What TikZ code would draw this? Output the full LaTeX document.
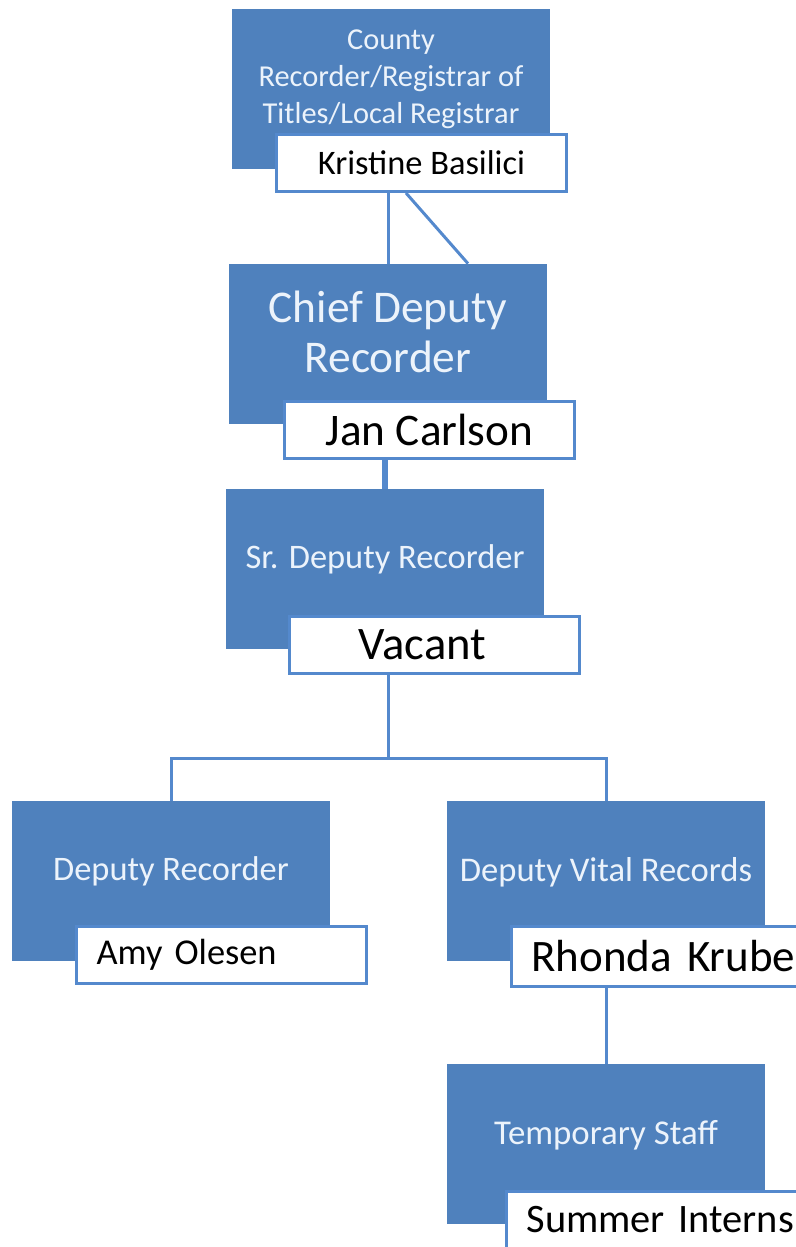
\documentclass[tikz,border=0pt]{standalone}
\usepackage{fontspec}
\setmainfont{Carlito}
\definecolor{boxblue}{RGB}{79,129,189}
\definecolor{lineblue}{RGB}{84,137,205}
\definecolor{paleblue}{RGB}{236,243,251}

\begin{document}
\begin{tikzpicture}[x=0.5pt,y=-0.5pt,
  role/.style={fill=boxblue, text=paleblue, minimum width=159pt, minimum height=80pt,
    inner sep=0pt, align=center, text depth=12pt},
  person/.style={draw=lineblue, line width=1.5pt, fill=white, minimum width=145pt,
    minimum height=28.5pt, inner sep=0pt, anchor=north west},
  leftname/.style={inner xsep=10pt, text width=#1, align=left},
  link/.style={draw=lineblue, line width=1.5pt}]
\useasboundingbox (0,0) rectangle (796,1247);

\node[role, font=\fontsize{15.2}{18.5}\selectfont] (county) at (391,89)
  {County\\Recorder/Registrar of\\Titles/Local Registrar};
\node[role, font=\fontsize{22.7}{25}\selectfont] (chief) at (388,344) {Chief Deputy\\Recorder};
\node[role, font=\fontsize{17.2}{20}\selectfont] (sr) at (385,569) {Sr. Deputy Recorder};
\node[role, font=\fontsize{17.2}{20}\selectfont] (deprec) at (171,881) {Deputy Recorder};
\node[role, font=\fontsize{17.3}{20}\selectfont] (vital) at (606,881) {Deputy Vital Records};
\node[role, font=\fontsize{17.4}{20}\selectfont] (temp) at (606,1144) {Temporary Staff};

\node[person, font=\fontsize{17.2}{20}\selectfont] (kristine) at (275,133) {Kristine Basilici};
\node[person, font=\fontsize{22.6}{26}\selectfont] (jan) at (283,400) {Jan Carlson};
\node[person, leftname=76pt, inner xsep=34.5pt, font=\fontsize{23.3}{27}\selectfont] (vacant) at (288,615) {Vacant};
\node[person, leftname=125pt, font=\fontsize{18.2}{22}\selectfont] (amy) at (75,925) {Amy Olesen};
\node[person, leftname=150pt, minimum height=30pt, font=\fontsize{22.5}{26}\selectfont] (rhonda) at (510,925) {Rhonda Krube};
\node[person, leftname=150pt, font=\fontsize{20.2}{24}\selectfont] (summer) at (505,1190) {Summer Interns};

\coordinate (split) at (388,758);
\draw[link] (kristine.south -| chief.north) -- (chief.north);
\draw[link] ([xshift=9pt]kristine.south -| chief.north) -- ([xshift=40pt]chief.north);
\draw[link, line width=3pt] (jan.south -| sr.north) -- (sr.north);
\draw[link] (vacant.south -| split) -- (split);
\draw[link] (deprec.north) |- (split) -| (vital.north);
\draw[link] (rhonda.south -| vital.south) -- (temp.north);
\end{tikzpicture}
\end{document}
